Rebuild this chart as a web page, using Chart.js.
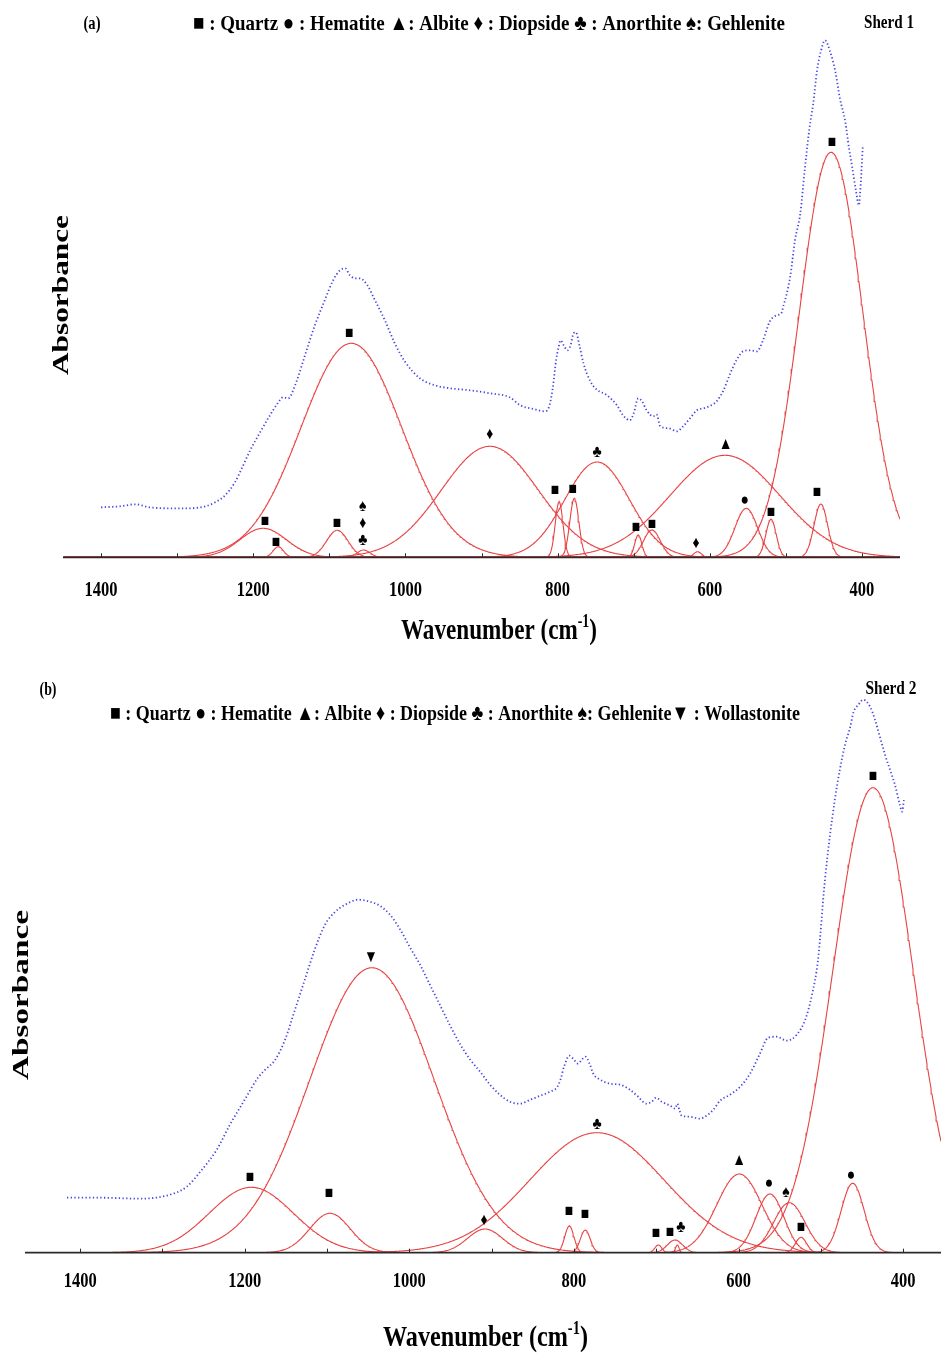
<!DOCTYPE html>
<html><head><meta charset="utf-8">
<script src="https://cdn.jsdelivr.net/npm/chart.js@4.4.1/dist/chart.umd.min.js"></script>
<style>
html,body{margin:0;padding:0;background:#fff;}
body{width:941px;height:1353px;position:relative;overflow:hidden;}
canvas{position:absolute;left:0;}
</style></head><body>
<canvas id="ca" width="941" height="655" style="top:0px"></canvas>
<canvas id="cb" width="941" height="698" style="top:655px"></canvas>
<script>
// ---------- Panel (a): Sherd 1 ----------
const spectrumWaveA = [1400,1375,1355,1336,1309,1283,1263,1250,1237,1224,1215,1204,1191,1178,1167,1161,1154,1145,1132,1119,1106,1095,1086,1079,1073,1066,1060,1050,1040,1027,1014,1000,981,961,941,915,889,863,849,830,817,811,806,802,799,796,792,787,783,779,776,771,766,757,749,735,722,714,705,700,694,689,683,674,670,665,654,643,635,626,617,604,591,582,573,565,556,547,538,530,521,512,506,503,499,494,488,481,475,469,464,459,454,448.5,442,435,429,422,417,413,408,404,401.5,399];
const spectrumAbsA = [0.50,0.51,0.53,0.50,0.49,0.49,0.51,0.55,0.62,0.75,0.89,1.07,1.25,1.42,1.55,1.60,1.59,1.72,2.02,2.32,2.57,2.77,2.87,2.89,2.82,2.79,2.79,2.72,2.57,2.37,2.14,1.95,1.79,1.72,1.69,1.67,1.64,1.60,1.52,1.48,1.46,1.51,1.71,1.97,2.09,2.17,2.12,2.07,2.12,2.24,2.25,2.11,1.94,1.76,1.68,1.62,1.52,1.42,1.37,1.44,1.59,1.56,1.47,1.41,1.43,1.31,1.29,1.26,1.31,1.39,1.47,1.50,1.56,1.67,1.84,1.97,2.06,2.07,2.06,2.17,2.36,2.42,2.44,2.52,2.63,2.82,3.17,3.44,3.89,4.29,4.54,4.87,5.06,5.17,5.06,4.86,4.59,4.36,4.09,3.91,3.67,3.52,3.75,4.10];
const peakCenterA = [1187,1167,1089.5,1055,1071,889,798,778,748,694,676,616,580,552,519.5,454,440.5];
const peakHeightA = [0.29,0.106,0.27,0.073,2.14,1.11,0.556,0.59,0.953,0.223,0.273,0.056,1.02,0.49,0.38,0.533,4.05];
const peakFwhmA   = [72,16,33,20,156,150,12,14,100,11,26,12,170,35,16,21,98];
const markerWaveA   = [1184.5,1170,1090,1056,1056,1056,1074,889,803.5,780,748,697,676,618,579,554,519.5,459,439.5];
const markerLevelA  = [0.36,0.15,0.34,0.51,0.34,0.17,2.24,1.23,0.67,0.68,1.05,0.30,0.33,0.14,1.13,0.57,0.45,0.65,4.15];
const markerSymbolA = ['■','■','■','♠','♦','♣','■','♦','■','■','♣','■','■','♦','▲','●','■','■','■'];
const legendA = '■ : Quartz ● : Hematite ▲: Albite ♦ : Diopside ♣ : Anorthite ♠: Gehlenite';

// ---------- Panel (b): Sherd 2 ----------
const spectrumWaveB = [1416,1376,1327,1287,1270.5,1254,1234,1218,1200,1184,1175,1163,1151,1139,1127,1115,1102.5,1090,1078,1062,1048,1036,1023.5,1011,999,987,975,963,951,938,926,914,902,890,878,865.5,853,841,829,820,816,812,805.5,800,795,790.5,786,781,776.5,768,756,744,732,722,712,705.5,700,693.4,683,677,674.4,672,669,659,647,639,630.6,622.5,610.4,598,586,574,564,553.6,541.5,529.3,519,510.7,503.4,495,483,470.6,464.5,460.5,454.4,448.4,440.2,434.2,430,422,416,410,404,401.3,399];
const spectrumAbsB = [0.55,0.55,0.54,0.59,0.66,0.81,1.03,1.28,1.53,1.75,1.83,1.93,2.13,2.43,2.73,3.03,3.28,3.41,3.48,3.53,3.51,3.47,3.38,3.23,3.05,2.88,2.68,2.48,2.28,2.08,1.93,1.81,1.68,1.58,1.51,1.49,1.53,1.57,1.61,1.66,1.74,1.86,1.97,1.93,1.89,1.93,1.96,1.89,1.79,1.73,1.69,1.68,1.63,1.56,1.49,1.51,1.55,1.51,1.47,1.44,1.49,1.43,1.37,1.36,1.34,1.37,1.43,1.52,1.58,1.66,1.79,1.99,2.15,2.16,2.12,2.18,2.33,2.58,2.93,3.73,4.53,5.08,5.25,5.40,5.48,5.53,5.46,5.33,5.21,4.98,4.83,4.68,4.48,4.41,4.53];
const peakCenterB = [1192,1096.4,1045.4,908,772,805.6,786.2,697.5,677.2,674.4,599,561.8,538.3,524.1,461.3,436.6];
const peakHeightB = [0.654,0.394,2.85,0.237,1.20,0.267,0.227,0.077,0.127,0.077,0.787,0.587,0.50,0.154,0.694,4.65];
const peakFwhmB   = [120,58,178,50,192,13,14,10,22,5,65,40,45,16,33,115];
const markerWaveB   = [1193.6,1097.6,1046.6,909.3,806,786.5,772,700.3,683.3,670,599.4,563,542.3,524.1,463.3,436.6];
const markerLevelB  = [0.75,0.59,2.95,0.32,0.41,0.38,1.28,0.19,0.20,0.25,0.92,0.69,0.60,0.25,0.77,4.76];
const markerSymbolB = ['■','■','▼','♦','■','■','♣','■','■','♣','▲','●','♠','■','●','■'];
const legendB = '■ : Quartz ● : Hematite ▲: Albite ♦ : Diopside ♣ : Anorthite ♠: Gehlenite▼ : Wollastonite';

// ---------- shared ----------
const tickLabels = [1400,1200,1000,800,600,400];
const minorTicks = [1400,1300,1200,1100,1000,900,800,700,600,500,400];
const FONT = "'Liberation Serif','Times New Roman',serif";
const RED = 'rgb(232,66,66)';
const BLUE = 'rgb(70,70,228)';
const HS = 0.75; // horizontal compression of the original figure's lettering

function gaussCurve(c, h, f, xmin, xmax) {
  const pts = [];
  const k = 4 * Math.LN2 / (f * f);
  for (let x = xmin; x <= xmax; x += 1) {
    pts.push({x: x, y: h * Math.exp(-k * (x - c) * (x - c))});
  }
  return pts;
}

function drawParts(ctx, parts, x, y, opt) {
  ctx.save();
  let W = 0;
  parts.forEach(p => { ctx.font = p.font; p.w = ctx.measureText(p.text).width; W += p.w; });
  const sx = opt.width ? opt.width / W : (opt.sx || 1);
  ctx.translate(x, y);
  if (opt.rotate) ctx.rotate(-Math.PI / 2);
  ctx.scale(sx, opt.sy || 1);
  ctx.textBaseline = 'middle';
  ctx.textAlign = 'left';
  ctx.fillStyle = '#000';
  let start = opt.align === 'left' ? 0 : -W / 2;
  parts.forEach(p => { ctx.font = p.font; ctx.fillText(p.text, start, p.dy || 0); start += p.w; });
  ctx.restore();
}

const annotPlugin = {
  id: 'annot',
  afterDatasetsDraw(chart, args, o) {
    const ctx = chart.ctx;
    const xs = chart.scales.x, ys = chart.scales.y;
    const ca = chart.chartArea;
    const y0 = ys.getPixelForValue(0);
    ctx.save();
    ctx.strokeStyle = '#2a2a2a';
    ctx.lineWidth = 1.8;
    ctx.beginPath(); ctx.moveTo(ca.left, y0); ctx.lineTo(ca.right, y0); ctx.stroke();
    ctx.lineWidth = 1;
    minorTicks.forEach(v => {
      const px = Math.round(xs.getPixelForValue(v)) + 0.5;
      ctx.beginPath(); ctx.moveTo(px, y0); ctx.lineTo(px, y0 - 4); ctx.stroke();
    });
    ctx.restore();
    tickLabels.forEach(v => {
      drawParts(ctx, [{text: String(v), font: 'bold 22px ' + FONT}], xs.getPixelForValue(v), o.tickY, {sx: HS});
    });
    o.mw.forEach((w, i) => {
      drawParts(ctx, [{text: o.ms[i], font: 'bold 17px ' + FONT}], xs.getPixelForValue(w), ys.getPixelForValue(o.ml[i]), {sx: 0.82});
    });
    drawParts(ctx, [
      {text: 'Wavenumber (cm', font: 'bold 30px ' + FONT},
      {text: '-1', font: 'bold 18px ' + FONT, dy: -9},
      {text: ')', font: 'bold 30px ' + FONT}
    ], o.titleX, o.titleY, {width: o.titleW});
    drawParts(ctx, [{text: 'Absorbance', font: 'bold 30px ' + FONT}], o.absX, o.absY, {width: o.absLen, sy: HS, rotate: true});
    drawParts(ctx, [{text: o.panel, font: 'bold 18px ' + FONT}], o.panelX, o.panelY, {width: o.panelW});
    drawParts(ctx, [{text: o.legend, font: 'bold 22px ' + FONT}], o.legX, o.legY, {width: o.legW, align: 'left'});
    drawParts(ctx, [{text: o.sherd, font: 'bold 19px ' + FONT}], o.sherdX, o.sherdY, {width: o.sherdW});
  }
};

function makeChart(id, cfg) {
  const datasets = [];
  cfg.pc.forEach((c, i) => {
    datasets.push({data: gaussCurve(c, cfg.ph[i], cfg.pf[i], cfg.xmin, cfg.xmax),
      borderColor: RED, borderWidth: 1.1, pointRadius: 0, fill: false, tension: 0, order: 2});
  });
  datasets.push({data: cfg.sw.map((w, i) => ({x: w, y: cfg.sa[i]})),
    borderColor: BLUE, borderWidth: 1.8, borderDash: [1.3, 2.4], pointRadius: 0, fill: false,
    tension: 0.3, cubicInterpolationMode: 'monotone', order: 1});
  return new Chart(document.getElementById(id), {
    type: 'line',
    data: {datasets},
    plugins: [annotPlugin],
    options: {
      responsive: false, animation: false, devicePixelRatio: 1,
      layout: {padding: cfg.pad},
      scales: {
        x: {type: 'linear', reverse: true, min: cfg.xmin, max: cfg.xmax, display: false},
        y: {type: 'linear', min: 0, max: cfg.ymax, display: false}
      },
      plugins: {legend: {display: false}, tooltip: {enabled: false}, annot: cfg.annot}
    }
  });
}

makeChart('ca', {
  pc: peakCenterA, ph: peakHeightA, pf: peakFwhmA, sw: spectrumWaveA, sa: spectrumAbsA,
  xmin: 350, xmax: 1450, ymax: 5.303,
  pad: {left: 63, right: 41, top: 27, bottom: 97.7},
  annot: {mw: markerWaveA, ml: markerLevelA, ms: markerSymbolA, tickY: 590,
    titleX: 499, titleY: 631, titleW: 196, absX: 62, absY: 295, absLen: 160,
    panel: '(a)', panelX: 92, panelY: 24, panelW: 17,
    legend: legendA, legX: 193, legY: 24, legW: 592,
    sherd: 'Sherd 1', sherdX: 889, sherdY: 23, sherdW: 50}
});

makeChart('cb', {
  pc: peakCenterB, ph: peakHeightB, pf: peakFwhmB, sw: spectrumWaveB, sa: spectrumAbsB,
  xmin: 354, xmax: 1467, ymax: 5.627,
  pad: {left: 25, right: 0, top: 35, bottom: 100.3},
  annot: {mw: markerWaveB, ml: markerLevelB, ms: markerSymbolB, tickY: 626.7,
    titleX: 485.5, titleY: 683, titleW: 205, absX: 22, absY: 340, absLen: 170,
    panel: '(b)', panelX: 48, panelY: 35, panelW: 17,
    legend: legendB, legX: 110, legY: 59, legW: 690,
    sherd: 'Sherd 2', sherdX: 891, sherdY: 34, sherdW: 51}
});
</script>
</body></html>
